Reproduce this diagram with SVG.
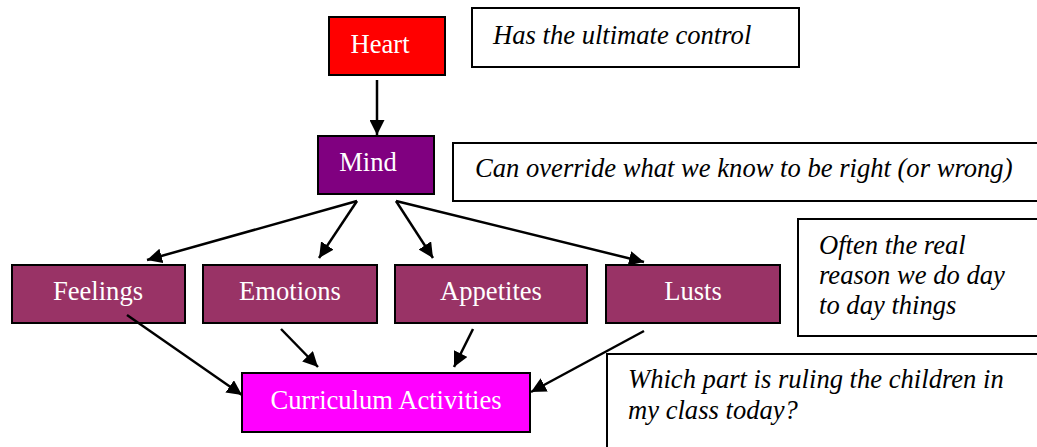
<svg xmlns="http://www.w3.org/2000/svg" width="1037" height="447" viewBox="0 0 1037 447">
<defs>
<marker id="ah" viewBox="0 0 10 10" refX="10" refY="5" markerWidth="6" markerHeight="6" markerUnits="strokeWidth" orient="auto">
<path d="M0,0 L10,5 L0,10 z" fill="#000"/>
</marker>
</defs>
<rect width="1037" height="447" fill="#fff"/>
<g id="heart"><rect x="329" y="17" width="116" height="58" fill="#ff0000" stroke="#000" stroke-width="2"/><text font-family="Liberation Serif" font-size="26.6" fill="#fff" text-anchor="middle" x="380" y="53">Heart</text></g>
<g id="note-heart"><rect x="472" y="8" width="327" height="59" fill="#fff" stroke="#000" stroke-width="2"/><text font-family="Liberation Serif" font-size="26.6" font-style="italic" x="493" y="44">Has the ultimate control</text></g>
<g id="mind"><rect x="318" y="136" width="116" height="58" fill="#800080" stroke="#000" stroke-width="2"/><text font-family="Liberation Serif" font-size="26.6" fill="#fff" text-anchor="middle" x="368" y="171">Mind</text></g>
<g id="note-mind"><rect x="453" y="143" width="600" height="58" fill="#fff" stroke="#000" stroke-width="2"/><text font-family="Liberation Serif" font-size="26.6" font-style="italic" x="475" y="177">Can override what we know to be right (or wrong)</text></g>
<g id="feelings"><rect x="12" y="265" width="173" height="58" fill="#993366" stroke="#000" stroke-width="2"/><text font-family="Liberation Serif" font-size="26.6" fill="#fff" text-anchor="middle" x="98" y="300">Feelings</text></g>
<g id="emotions"><rect x="203" y="265" width="174" height="58" fill="#993366" stroke="#000" stroke-width="2"/><text font-family="Liberation Serif" font-size="26.6" fill="#fff" text-anchor="middle" x="290" y="300">Emotions</text></g>
<g id="appetites"><rect x="395" y="265" width="192" height="58" fill="#993366" stroke="#000" stroke-width="2"/><text font-family="Liberation Serif" font-size="26.6" fill="#fff" text-anchor="middle" x="491" y="300">Appetites</text></g>
<g id="lusts"><rect x="606" y="265" width="174" height="58" fill="#993366" stroke="#000" stroke-width="2"/><text font-family="Liberation Serif" font-size="26.6" fill="#fff" text-anchor="middle" x="693" y="300">Lusts</text></g>
<g id="note-lusts"><rect x="798" y="219" width="260" height="117" fill="#fff" stroke="#000" stroke-width="2"/><text font-family="Liberation Serif" font-size="26.6" font-style="italic" x="819" y="254">Often the real</text><text font-family="Liberation Serif" font-size="26.6" font-style="italic" x="819" y="284">reason we do day</text><text font-family="Liberation Serif" font-size="26.6" font-style="italic" x="819" y="314">to day things</text></g>
<g id="curriculum"><rect x="242" y="373" width="288" height="59" fill="#ff00ff" stroke="#000" stroke-width="2"/><text font-family="Liberation Serif" font-size="26.6" fill="#fff" text-anchor="middle" x="386" y="409">Curriculum Activities</text></g>
<g id="note-curriculum"><rect x="607" y="354" width="450" height="110" fill="#fff" stroke="#000" stroke-width="2"/><text font-family="Liberation Serif" font-size="26.6" font-style="italic" x="628" y="388">Which part is ruling the children in</text><text font-family="Liberation Serif" font-size="26.6" font-style="italic" x="628" y="419">my class today?</text></g>
<g id="connectors" stroke="#000" stroke-width="2.5" marker-end="url(#ah)">
<line x1="377" y1="80" x2="377" y2="135"/>
<line x1="357" y1="201" x2="147" y2="260"/>
<line x1="357" y1="201" x2="319" y2="258"/>
<line x1="396" y1="201" x2="433" y2="258"/>
<line x1="396" y1="201" x2="644" y2="262"/>
<line x1="127" y1="315" x2="242" y2="395"/>
<line x1="281" y1="329" x2="318" y2="367"/>
<line x1="473" y1="329" x2="454" y2="367"/>
<line x1="644" y1="331" x2="531" y2="392"/>
</g>
</svg>
